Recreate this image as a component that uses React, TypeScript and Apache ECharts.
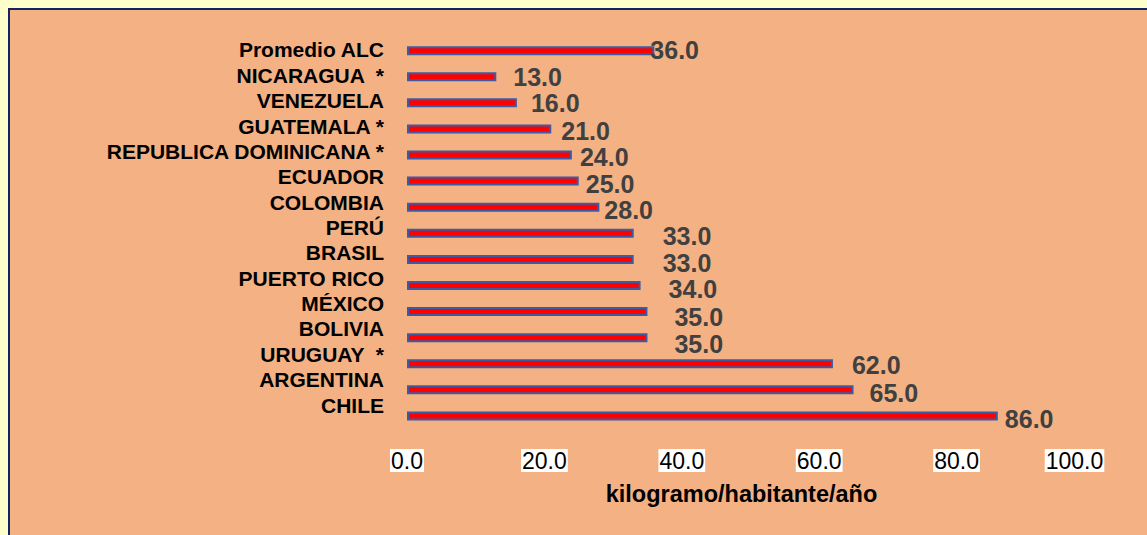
import React, { useEffect, useRef } from "react";
import * as echarts from "echarts";

const categories: string[] = [
  "Promedio ALC",
  "NICARAGUA  *",
  "VENEZUELA",
  "GUATEMALA *",
  "REPUBLICA DOMINICANA *",
  "ECUADOR",
  "COLOMBIA",
  "PERÚ",
  "BRASIL",
  "PUERTO RICO",
  "MÉXICO",
  "BOLIVIA",
  "URUGUAY  *",
  "ARGENTINA",
  "CHILE",
];

const values: number[] = [36, 13, 16, 21, 24, 25, 28, 33, 33, 34, 35, 35, 62, 65, 86];

const xTicks: number[] = [0, 20, 40, 60, 80, 100];

const axisTitle = "kilogramo/habitante/año";

// label nudges (style only), px [dx, dy]
const labelNudge: [number, number][] = [
  [-4, -1],
  [17, 0],
  [14, 0],
  [10, 2],
  [8, 2],
  [7, 3],
  [5, 3],
  [29, 3],
  [29, 4],
  [28, 4],
  [27, 5],
  [27, 6],
  [19, 1],
  [16, 3],
  [7, 3],
];

const FONT = '"Liberation Sans", Arial, Helvetica, sans-serif';

export default function App() {
  const ref = useRef<HTMLDivElement>(null);

  useEffect(() => {
    if (!ref.current) return;
    const chart = echarts.init(ref.current, undefined, { renderer: "svg" });
    const maxTick = xTicks[xTicks.length - 1];
    chart.setOption({
      animation: false,
      backgroundColor: "transparent",
      textStyle: { fontFamily: FONT },
      grid: [
        { left: 407, right: 53, top: 37.6, bottom: 106, outerBoundsMode: "none", containLabel: false },
        { left: 407, right: 53, top: 37.3, bottom: 117.3, outerBoundsMode: "none", containLabel: false },
      ],
      xAxis: [
        {
          type: "value",
          gridIndex: 0,
          min: xTicks[0],
          max: maxTick,
          interval: xTicks[1] - xTicks[0],
          splitLine: { show: false },
          axisLine: { show: false },
          axisTick: { show: false },
          axisLabel: {
            margin: 20,
            formatter: (v: number) =>
              v === maxTick ? `{v|${v.toFixed(1)}}{s| }` : `{v|${v.toFixed(1)}}`,
            rich: {
              v: {
                backgroundColor: "#FFFFFF",
                fontSize: 23,
                lineHeight: 23,
                padding: [0, 1],
                color: "#000000",
                fontFamily: FONT,
              },
              s: { width: 39, fontSize: 23, lineHeight: 23 },
            },
          },
          name: axisTitle,
          nameLocation: "middle",
          nameGap: 53,
          nameTextStyle: {
            fontSize: 23.5,
            fontWeight: "bold",
            color: "#000000",
            fontFamily: FONT,
            padding: [0, 18, 0, 0],
          },
        },
        {
          type: "value",
          gridIndex: 1,
          min: xTicks[0],
          max: maxTick,
          show: false,
        },
      ],
      yAxis: [
        {
          type: "category",
          gridIndex: 0,
          data: categories,
          inverse: true,
          axisLabel: { show: false },
          axisLine: { show: false },
          axisTick: { show: false },
          splitLine: { show: false },
        },
        {
          type: "category",
          gridIndex: 1,
          data: categories,
          inverse: true,
          axisLine: { show: false },
          axisTick: { show: false },
          splitLine: { show: false },
          axisLabel: {
            interval: 0,
            margin: 23,
            fontSize: 21,
            fontWeight: "bold",
            color: "#000000",
            fontFamily: FONT,
          },
        },
      ],
      series: [
        {
          type: "bar",
          xAxisIndex: 0,
          yAxisIndex: 0,
          barWidth: 9,
          data: values.map((v, i) => ({
            value: v,
            label: { offset: labelNudge[i] },
          })),
          itemStyle: {
            color: "#FF0000",
            borderColor: "#3B5BA5",
            borderWidth: 2,
          },
          label: {
            show: true,
            position: "right",
            distance: 0,
            formatter: (p: any) => Number(p.value).toFixed(1),
            fontSize: 25,
            fontWeight: "bold",
            color: "#404040",
            fontFamily: FONT,
          },
        },
      ],
    });
    return () => chart.dispose();
  }, []);

  return (
    <div
      style={{
        position: "fixed",
        left: 0,
        top: 0,
        width: 1147,
        height: 535,
        background: "#FFFFCC",
        overflow: "hidden",
      }}
    >
      <div
        style={{
          position: "absolute",
          left: 8,
          top: 8,
          right: 0,
          bottom: 0,
          background: "#F4B183",
          borderLeft: "2px solid #13235F",
          borderTop: "2px solid #13235F",
        }}
      />
      <div
        ref={ref}
        style={{ position: "absolute", left: 0, top: 0, width: 1147, height: 535 }}
      />
    </div>
  );
}
